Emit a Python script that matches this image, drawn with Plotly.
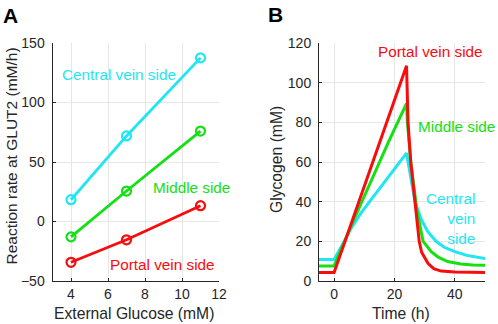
import plotly.graph_objects as go

# ---------- Panel A data ----------
glucose = [4, 7, 11]
rate_central = [18.3, 71.9, 137.5]
rate_middle = [-12.9, 25.6, 76.0]
rate_portal = [-34.3, -15.4, 13.3]

# ---------- Panel B data ----------
t_portal = [-5, 0, 24, 24.5, 25.4, 26.7, 28.2, 29, 31.1, 33, 35.5, 40, 45, 50]
g_portal = [4.3, 4.3, 108.5, 80, 60, 40, 20, 14.5, 8.9, 6.2, 5.0, 4.5, 4.3, 4.3]

t_middle = [-5, 0, 6, 12, 18, 24, 24.3, 25.4, 26.8, 27.5, 29.5, 32.2, 34.5, 37.6, 42, 46, 50]
g_middle = [7.6, 7.6, 29, 49.5, 70, 89.5, 80, 60, 42, 35, 20, 14.8, 12, 9.8, 8.6, 8.1, 8.0]

t_central = [-5, 0, 3, 5.3, 9, 13, 17.9, 21, 24, 24.5, 25.6, 26.8, 28.9, 31, 33.8, 36.5, 40, 44, 50]
g_central = [10.9, 10.9, 19, 25.7, 34.5, 42.5, 52.6, 58.5, 64.5, 60, 50, 40, 31, 25, 20, 17, 14.8, 12.9, 11.3]

C_CYAN = "#1fe6f2"
C_GREEN = "#14e014"
C_RED = "#f80c0c"
FONT = "Liberation Sans, Arial, sans-serif"
TXT = "#262626"
GRID = "#e6e6e6"

fig = go.Figure()

for y, c in [(rate_central, C_CYAN), (rate_middle, C_GREEN), (rate_portal, C_RED)]:
    fig.add_trace(go.Scatter(
        x=glucose, y=y, mode="lines+markers",
        line=dict(color=c, width=2.8),
        marker=dict(symbol="circle-open", size=9, color=c, line=dict(width=2.2, color=c)),
        xaxis="x", yaxis="y", showlegend=False, cliponaxis=False))

for t, g, c in [(t_central, g_central, C_CYAN), (t_middle, g_middle, C_GREEN), (t_portal, g_portal, C_RED)]:
    fig.add_trace(go.Scatter(
        x=t, y=g, mode="lines", line=dict(color=c, width=3),
        xaxis="x2", yaxis="y2", showlegend=False))

ydom = [1 - 281 / 324, 1 - 43 / 324]
axis_common = dict(
    showline=True, linecolor=TXT, linewidth=1, mirror=False,
    ticks="inside", ticklen=3, tickcolor=TXT, tickwidth=1,
    showgrid=True, gridcolor=GRID, gridwidth=1, zeroline=False,
    tickfont=dict(family=FONT, size=14, color=TXT), automargin=False,
)

fig.update_layout(
    width=498, height=324, template="none",
    paper_bgcolor="white", plot_bgcolor="white",
    margin=dict(l=0, r=0, t=0, b=0),
    xaxis=dict(domain=[52.5 / 498, 219 / 498], range=[3, 12], tickvals=[4, 6, 8, 10, 12],
               anchor="y", **axis_common),
    yaxis=dict(domain=ydom, range=[-50, 150], tickvals=[-50, 0, 50, 100, 150],
               anchor="x", ticklabelstandoff=4, **axis_common),
    xaxis2=dict(domain=[319 / 498, 485 / 498], range=[-5, 50], tickvals=[0, 20, 40],
                anchor="y2", **axis_common),
    yaxis2=dict(domain=ydom, range=[0, 120], tickvals=[0, 20, 40, 60, 80, 100, 120],
                anchor="x2", ticklabelstandoff=4, **axis_common),
)

ann = []
def label(text, x, y, xref, yref, size=15.3, color=TXT, xanchor="center", **kw):
    ann.append(dict(text=text, x=x, y=y, xref=xref, yref=yref, showarrow=False,
                    xanchor=xanchor, yanchor="middle",
                    font=dict(family=FONT, size=size, color=color), **kw))

# Panel letters
label("<b>A</b>", 10.5 / 498, 1 - 15.5 / 324, "paper", "paper", size=21, color="black")
label("<b>B</b>", 275 / 498, 1 - 15 / 324, "paper", "paper", size=21, color="black")

# Axis titles
label("External Glucose (mM)", 134 / 498, 1 - 313 / 324, "paper", "paper", size=15.7)
label("Reaction rate at GLUT2 (mM/h)", 11.5 / 498, 1 - 156 / 324, "paper", "paper", size=15.5, textangle=-90)
label("Time (h)", 400.5 / 498, 1 - 313 / 324, "paper", "paper", size=15.7)
label("Glycogen (mM)", 276 / 498, 1 - 160 / 324, "paper", "paper", size=15.7, textangle=-90)

# Series labels panel A
label("Central vein side", 6.57, 123.7, "x", "y", color=C_CYAN)
label("Middle side", 10.51, 28.4, "x", "y", color=C_GREEN)
label("Portal vein side", 8.92, -36.5, "x", "y", color=C_RED)

# Series labels panel B
label("Portal vein side", 32, 115.5, "x2", "y2", color=C_RED)
label("Middle side", 40.6, 78, "x2", "y2", color=C_GREEN)
label("Central<br>vein<br>side", 47.5, 31.3, "x2", "y2", color=C_CYAN,
      xanchor="right", align="right")

fig.update_layout(annotations=ann)
fig.write_html("out.html", config={"displayModeBar": False},
               post_script="document.body.style.margin='0';document.body.style.overflow='hidden';")
